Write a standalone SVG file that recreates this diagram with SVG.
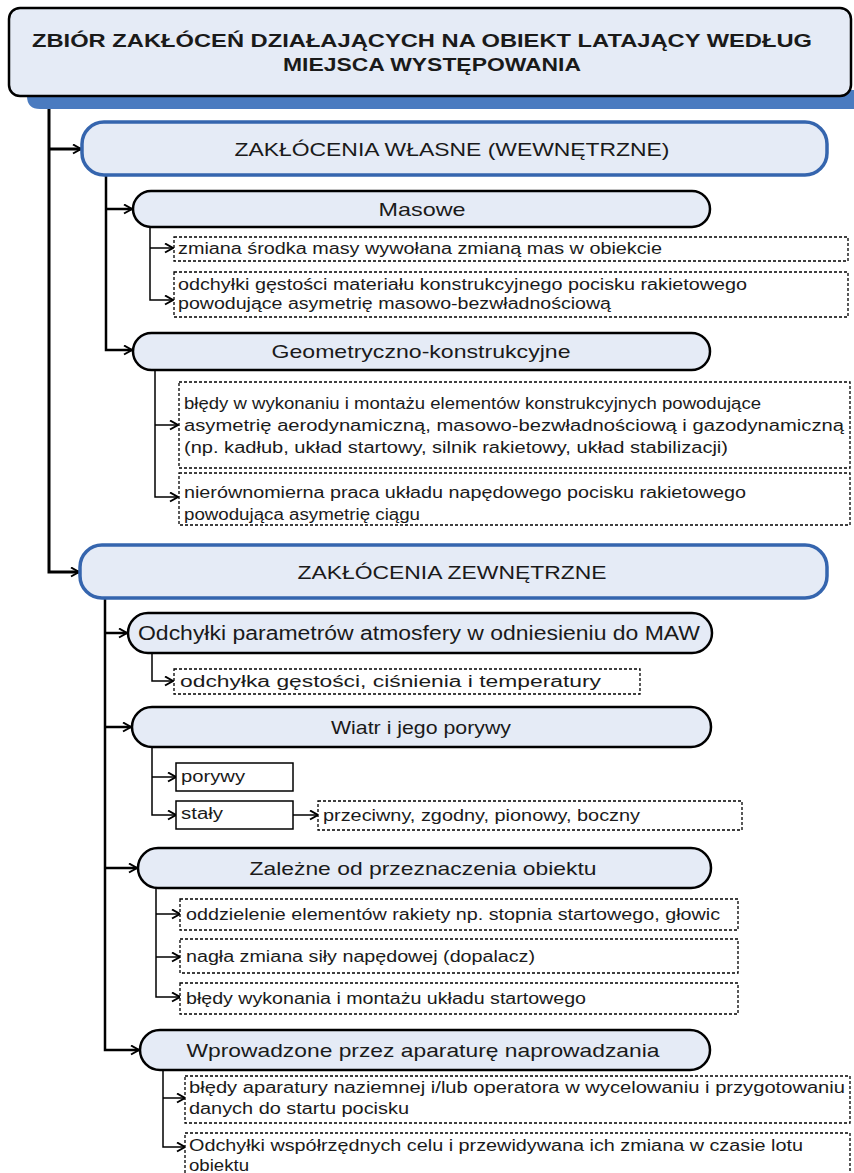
<svg xmlns="http://www.w3.org/2000/svg" width="854" height="1173" viewBox="0 0 854 1173">
<defs>
<marker id="arr" markerUnits="userSpaceOnUse" markerWidth="12" markerHeight="12" refX="9" refY="5" orient="auto">
<path d="M1,0.5 L9,5 L1,9.5" fill="none" stroke="#000" stroke-width="2"/>
</marker>
</defs>
<style>
text{font-family:"Liberation Sans",Arial,sans-serif;fill:#1a1a1a}
.t0{font-size:18px;font-weight:bold}
.t1{font-size:19px}
.t2{font-size:19px}
.t3{font-size:16px}
.pill{fill:#e5ebf6;stroke:#000;stroke-width:2.5}
.blue{fill:#e5ebf6;stroke:#3565ae;stroke-width:3.5}
.dash{fill:#fff;stroke:#000;stroke-width:1.3;stroke-dasharray:3,2}
.solid{fill:#fff;stroke:#000;stroke-width:1.5}
.c1{fill:none;stroke:#000;stroke-width:3}
.c2{fill:none;stroke:#000;stroke-width:2.5}
.c3{fill:none;stroke:#000;stroke-width:1.5}
</style>
<rect width="854" height="1173" fill="#fff"/>

<g id="connectors">
<path class="c1" d="M49,97 V572 H79" marker-end="url(#arr)"/>
<path class="c1" d="M49,149 H81" marker-end="url(#arr)"/>
<path class="c2" d="M106,175 V350 H132" marker-end="url(#arr)"/>
<path class="c2" d="M106,209 H132" marker-end="url(#arr)"/>
<path class="c3" d="M150,227 V300 H173" marker-end="url(#arr)"/>
<path class="c3" d="M150,248 H173" marker-end="url(#arr)"/>
<path class="c3" d="M155,370 V497 H178" marker-end="url(#arr)"/>
<path class="c3" d="M155,425 H178" marker-end="url(#arr)"/>
<path class="c2" d="M105,598 V1050 H139" marker-end="url(#arr)"/>
<path class="c2" d="M105,633 H127" marker-end="url(#arr)"/>
<path class="c2" d="M105,727 H131" marker-end="url(#arr)"/>
<path class="c2" d="M105,868 H137" marker-end="url(#arr)"/>
<path class="c3" d="M152,653 V681 H173" marker-end="url(#arr)"/>
<path class="c3" d="M152,747 V815 H176" marker-end="url(#arr)"/>
<path class="c3" d="M152,777 H176" marker-end="url(#arr)"/>
<path class="c3" d="M293,815 H318" marker-end="url(#arr)"/>
<path class="c3" d="M156,888 V997 H180" marker-end="url(#arr)"/>
<path class="c3" d="M156,914 H180" marker-end="url(#arr)"/>
<path class="c3" d="M156,957 H180" marker-end="url(#arr)"/>
<path class="c3" d="M163,1070 V1147 H185" marker-end="url(#arr)"/>
<path class="c3" d="M163,1098 H185" marker-end="url(#arr)"/>
</g>

<g id="root">
<path d="M27,90 H854 V109 H40 Q27,109 27,96 Z" fill="#4a7bc0"/>
<rect x="9" y="8" width="842" height="88" rx="11" fill="#e5ebf6" stroke="#000" stroke-width="2.5"/>
<text class="t0" x="422" y="47" text-anchor="middle" textLength="780" lengthAdjust="spacingAndGlyphs">ZBIÓR ZAKŁÓCEŃ DZIAŁAJĄCYCH NA OBIEKT LATAJĄCY WEDŁUG</text>
<text class="t0" x="432" y="71" text-anchor="middle" textLength="298" lengthAdjust="spacingAndGlyphs">MIEJSCA WYSTĘPOWANIA</text>
</g>

<g id="wlasne">
<rect class="blue" x="82" y="122" width="745" height="53" rx="22"/>
<text class="t1" x="452" y="156" text-anchor="middle" textLength="435" lengthAdjust="spacingAndGlyphs">ZAKŁÓCENIA WŁASNE (WEWNĘTRZNE)</text>
</g>

<g id="masowe">
<rect class="pill" x="133" y="191" width="577" height="36" rx="18"/>
<text class="t2" x="422" y="216" text-anchor="middle" textLength="87" lengthAdjust="spacingAndGlyphs">Masowe</text>
</g>
<g id="m1">
<rect class="dash" x="174" y="237" width="674" height="24"/>
<text class="t3" x="178" y="254" textLength="484" lengthAdjust="spacingAndGlyphs">zmiana środka masy wywołana zmianą mas w obiekcie</text>
</g>
<g id="m2">
<rect class="dash" x="174" y="272" width="674" height="45"/>
<text class="t3" x="178" y="290" textLength="569" lengthAdjust="spacingAndGlyphs">odchyłki gęstości materiału konstrukcyjnego pocisku rakietowego</text>
<text class="t3" x="178" y="309" textLength="433" lengthAdjust="spacingAndGlyphs">powodujące asymetrię masowo-bezwładnościową</text>
</g>

<g id="geom">
<rect class="pill" x="133" y="333" width="577" height="37" rx="18.5"/>
<text class="t2" x="421" y="358" text-anchor="middle" textLength="299" lengthAdjust="spacingAndGlyphs">Geometryczno-konstrukcyjne</text>
</g>
<g id="g1">
<rect class="dash" x="179" y="382" width="671" height="86"/>
<text class="t3" x="184" y="409" textLength="577" lengthAdjust="spacingAndGlyphs">błędy w wykonaniu i montażu elementów konstrukcyjnych powodujące</text>
<text class="t3" x="184" y="431" textLength="660" lengthAdjust="spacingAndGlyphs">asymetrię aerodynamiczną, masowo-bezwładnościową i gazodynamiczną</text>
<text class="t3" x="184" y="453" textLength="544" lengthAdjust="spacingAndGlyphs">(np. kadłub, układ startowy, silnik rakietowy, układ stabilizacji)</text>
</g>
<g id="g2">
<rect class="dash" x="179" y="473" width="671" height="52"/>
<text class="t3" x="184" y="498" textLength="562" lengthAdjust="spacingAndGlyphs">nierównomierna praca układu napędowego pocisku rakietowego</text>
<text class="t3" x="184" y="520" textLength="236" lengthAdjust="spacingAndGlyphs">powodująca asymetrię ciągu</text>
</g>

<g id="zewnetrzne">
<rect class="blue" x="80" y="545" width="747" height="53" rx="22"/>
<text class="t1" x="452" y="579" text-anchor="middle" textLength="309" lengthAdjust="spacingAndGlyphs">ZAKŁÓCENIA ZEWNĘTRZNE</text>
</g>

<g id="odchylki">
<rect class="pill" x="128" y="613" width="584" height="40" rx="20"/>
<text x="419" y="640" text-anchor="middle" style="font-size:20px" textLength="562" lengthAdjust="spacingAndGlyphs">Odchyłki parametrów atmosfery w odniesieniu do MAW</text>
</g>
<g id="o1">
<rect class="dash" x="174" y="669" width="466" height="25"/>
<text class="t3" x="180" y="687" textLength="421" lengthAdjust="spacingAndGlyphs">odchyłka gęstości, ciśnienia i temperatury</text>
</g>

<g id="wiatr">
<rect class="pill" x="132" y="707" width="579" height="40" rx="20"/>
<text class="t2" x="421" y="734" text-anchor="middle" textLength="180" lengthAdjust="spacingAndGlyphs">Wiatr i jego porywy</text>
</g>
<g id="porywy">
<rect class="solid" x="176" y="763" width="117" height="28"/>
<text class="t3" x="181" y="782" textLength="64" lengthAdjust="spacingAndGlyphs">porywy</text>
</g>
<g id="staly">
<rect class="solid" x="176" y="801" width="117" height="28"/>
<text class="t3" x="181" y="819" textLength="42" lengthAdjust="spacingAndGlyphs">stały</text>
</g>
<g id="przeciwny">
<rect class="dash" x="318" y="801" width="424" height="29"/>
<text class="t3" x="323" y="821" textLength="317" lengthAdjust="spacingAndGlyphs">przeciwny, zgodny, pionowy, boczny</text>
</g>

<g id="zalezne">
<rect class="pill" x="138" y="848" width="573" height="40" rx="20"/>
<text class="t2" x="423" y="875" text-anchor="middle" textLength="347" lengthAdjust="spacingAndGlyphs">Zależne od przeznaczenia obiektu</text>
</g>
<g id="z1">
<rect class="dash" x="180" y="899" width="558" height="31"/>
<text class="t3" x="186" y="920" textLength="534" lengthAdjust="spacingAndGlyphs">oddzielenie elementów rakiety np. stopnia startowego, głowic</text>
</g>
<g id="z2">
<rect class="dash" x="180" y="939" width="558" height="34"/>
<text class="t3" x="186" y="962" textLength="349" lengthAdjust="spacingAndGlyphs">nagła zmiana siły napędowej (dopalacz)</text>
</g>
<g id="z3">
<rect class="dash" x="180" y="983" width="558" height="31"/>
<text class="t3" x="186" y="1004" textLength="400" lengthAdjust="spacingAndGlyphs">błędy wykonania i montażu układu startowego</text>
</g>

<g id="wprowadzone">
<rect class="pill" x="140" y="1030" width="570" height="40" rx="20"/>
<text class="t2" x="423" y="1057" text-anchor="middle" textLength="473" lengthAdjust="spacingAndGlyphs">Wprowadzone przez aparaturę naprowadzania</text>
</g>
<g id="w1">
<rect class="dash" x="185" y="1076" width="665" height="47"/>
<text class="t3" x="189" y="1093" textLength="656" lengthAdjust="spacingAndGlyphs">błędy aparatury naziemnej i/lub operatora w wycelowaniu i przygotowaniu</text>
<text class="t3" x="189" y="1114" textLength="220" lengthAdjust="spacingAndGlyphs">danych do startu pocisku</text>
</g>
<g id="w2">
<rect class="dash" x="185" y="1133" width="665" height="50"/>
<text class="t3" x="189" y="1151" textLength="614" lengthAdjust="spacingAndGlyphs">Odchyłki współrzędnych celu i przewidywana ich zmiana w czasie lotu</text>
<text class="t3" x="189" y="1171" textLength="60" lengthAdjust="spacingAndGlyphs">obiektu</text>
</g>
</svg>
